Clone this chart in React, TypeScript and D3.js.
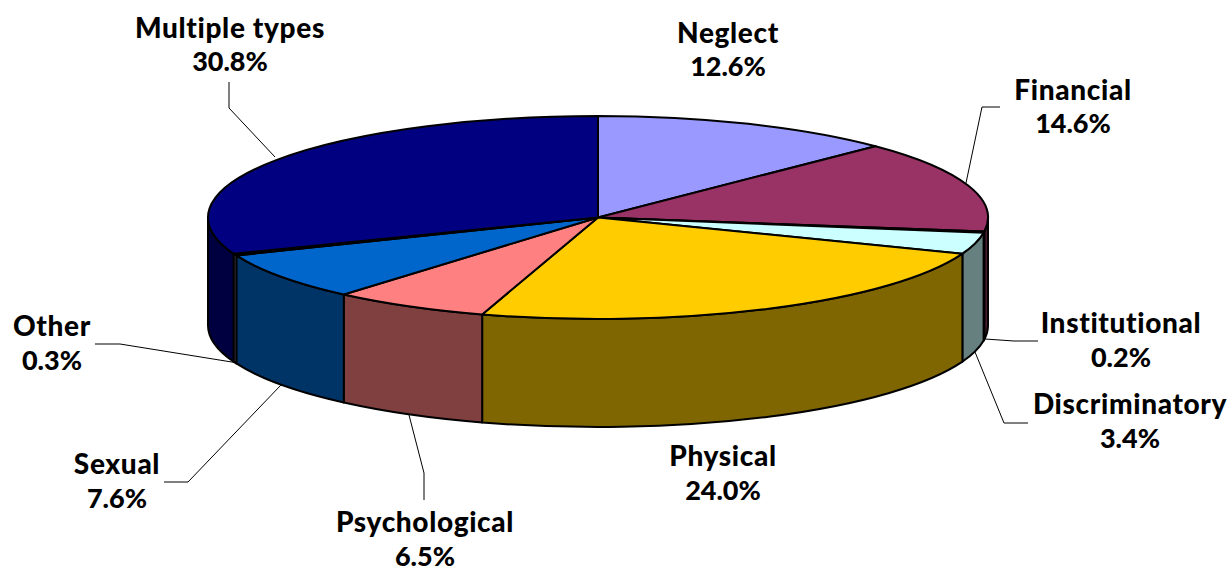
import React from "react";
import * as d3 from "d3";

// Share of reports by type of abuse, clockwise from twelve o'clock.
const categories = ["Neglect", "Financial", "Institutional", "Discriminatory", "Physical", "Psychological", "Sexual", "Other", "Multiple types"];
const shares = [12.6, 14.6, 0.2, 3.4, 24.0, 6.5, 7.6, 0.3, 30.8];
const topColors = ["#9999ff", "#993366", "#ffffcc", "#ccffff", "#ffcc00", "#ff8080", "#0066cc", "#ccccff", "#000080"];

// Label layout: centre x, first baseline y.
const labelX = [728, 1073, 1121, 1130, 723, 425, 117, 52, 230];
const labelY = [42.5, 99.5, 333, 414, 466, 532, 474, 336, 37.5];
const lineGap = 34;

// Leader polylines, one per label that has one.
const leaders: [number, number][][] = [
  [[1000, 107], [982, 107], [966, 183]],
  [[1038, 341], [1014, 341], [985, 339]],
  [[1028, 423], [1004, 423], [975, 352]],
  [[424, 500], [424, 473], [409, 415]],
  [[164, 482], [188, 482], [281, 385]],
  [[95, 344], [120, 344], [238, 363]],
  [[229, 82], [229, 108], [275, 157]],
];

const WIDTH = 1231;
const HEIGHT = 567;
const CX = 598;
const CY = 217.5;
const RX = 390;
const RY = 101.5;
const DEPTH = 108;
const FONT = "Lato, 'Open Sans', sans-serif";

const pie = d3.pie<number>().sort(null).value((d) => d)(shares);

const rim = (a: number, dy = 0): [number, number] => [
  CX + RX * Math.sin(a),
  CY - RY * Math.cos(a) + dy,
];

const topPath = (a0: number, a1: number) => {
  const [x0, y0] = rim(a0);
  const [x1, y1] = rim(a1);
  const large = a1 - a0 > Math.PI ? 1 : 0;
  return `M${CX},${CY}L${x0},${y0}A${RX},${RY} 0 ${large} 1 ${x1},${y1}Z`;
};

// The wall is only visible on the front half of the ellipse.
const sidePath = (a0: number, a1: number) => {
  const s = Math.max(a0, Math.PI / 2);
  const e = Math.min(a1, (Math.PI * 3) / 2);
  if (e <= s) return null;
  const [x0, y0] = rim(s);
  const [x1, y1] = rim(e);
  const [x2, y2] = rim(e, DEPTH);
  const [x3, y3] = rim(s, DEPTH);
  return `M${x0},${y0}A${RX},${RY} 0 0 1 ${x1},${y1}L${x2},${y2}A${RX},${RY} 0 0 0 ${x3},${y3}Z`;
};

const darken = (c: string) => {
  const { r, g, b } = d3.rgb(c);
  return d3.rgb(r / 2, g / 2, b / 2).formatHex();
};

const leaderLine = d3.line();

export default function App() {
  return (
    <svg
      width={WIDTH}
      height={HEIGHT}
      viewBox={`0 0 ${WIDTH} ${HEIGHT}`}
      style={{ position: "absolute", left: 0, top: 0, background: "#fff" }}
    >
      {leaders.map((pts, i) => (
        <path key={i} d={leaderLine(pts) ?? ""} fill="none" stroke="#000" strokeWidth={1} />
      ))}
      {pie.map((s, i) => {
        const d = sidePath(s.startAngle, s.endAngle);
        return d ? (
          <path key={i} d={d} fill={darken(topColors[i])} stroke="#000" strokeWidth={2} strokeLinejoin="round" />
        ) : null;
      })}
      {pie.map((s, i) => (
        <path key={i} d={topPath(s.startAngle, s.endAngle)} fill={topColors[i]} stroke="#000" strokeWidth={2} strokeLinejoin="round" />
      ))}
      {categories.map((c, i) => (
        <text key={c} textAnchor="middle" fontFamily={FONT} fontWeight={900} fill="#000">
          <tspan x={labelX[i]} y={labelY[i]} fontSize={28} letterSpacing={0.65}>{c}</tspan>
          <tspan x={labelX[i]} y={Math.round(labelY[i]) + lineGap - (labelY[i] % 1 ? 1 : 0)} fontSize={27}>{`${shares[i].toFixed(1)}%`}</tspan>
        </text>
      ))}
    </svg>
  );
}
